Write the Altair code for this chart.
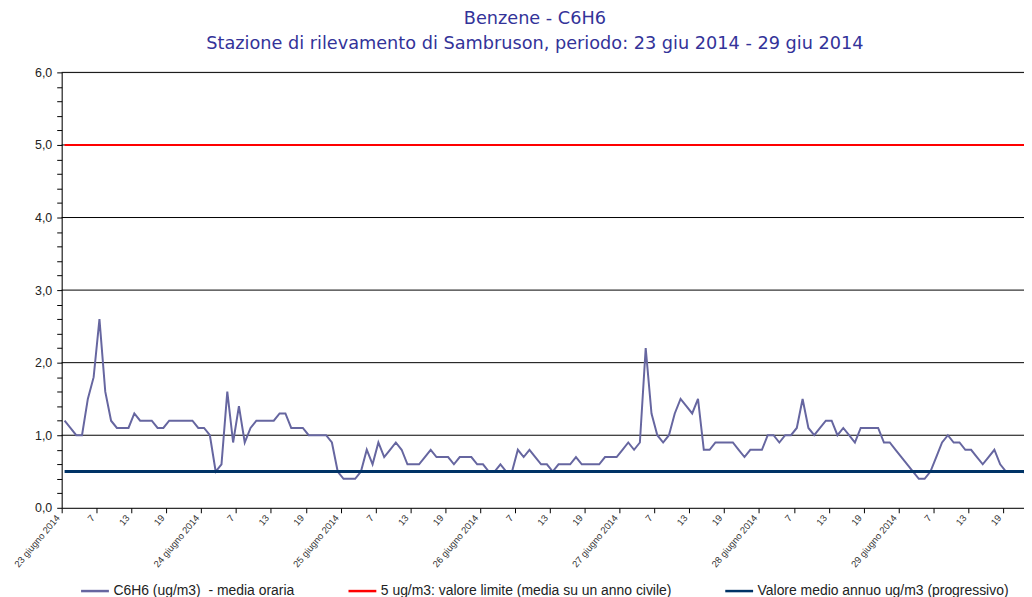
import json
import altair as alt
import pandas as pd

# ---------------- data ----------------
title_lines = [
    "Benzene - C6H6",
    "Stazione di rilevamento di Sambruson, periodo: 23 giu 2014 - 29 giu 2014",
]
series_names = [
    "C6H6 (ug/m3)\u00a0 - media oraria",
    "5 ug/m3: valore limite (media su un anno civile)",
    "Valore medio annuo ug/m3 (progressivo)",
]
series_colors = ["#6666A0", "#FF0000", "#003366"]

# hourly values, 23 -> 29 June 2014 (24 per day)
c6h6 = [
    # 23 giugno
    1.2, 1.1, 1.0, 1.0, 1.5, 1.8, 2.6, 1.6, 1.2, 1.1, 1.1, 1.1,
    1.3, 1.2, 1.2, 1.2, 1.1, 1.1, 1.2, 1.2, 1.2, 1.2, 1.2, 1.1,
    # 24 giugno
    1.1, 1.0, 0.5, 0.6, 1.6, 0.9, 1.4, 0.9, 1.1, 1.2, 1.2, 1.2,
    1.2, 1.3, 1.3, 1.1, 1.1, 1.1, 1.0, 1.0, 1.0, 1.0, 0.9, 0.5,
    # 25 giugno
    0.4, 0.4, 0.4, 0.5, 0.8, 0.6, 0.9, 0.7, 0.8, 0.9, 0.8, 0.6,
    0.6, 0.6, 0.7, 0.8, 0.7, 0.7, 0.7, 0.6, 0.7, 0.7, 0.7, 0.6,
    # 26 giugno
    0.6, 0.5, 0.5, 0.6, 0.5, 0.5, 0.8, 0.7, 0.8, 0.7, 0.6, 0.6,
    0.5, 0.6, 0.6, 0.6, 0.7, 0.6, 0.6, 0.6, 0.6, 0.7, 0.7, 0.7,
    # 27 giugno
    0.8, 0.9, 0.8, 0.9, 2.2, 1.3, 1.0, 0.9, 1.0, 1.3, 1.5, 1.4,
    1.3, 1.5, 0.8, 0.8, 0.9, 0.9, 0.9, 0.9, 0.8, 0.7, 0.8, 0.8,
    # 28 giugno
    0.8, 1.0, 1.0, 0.9, 1.0, 1.0, 1.1, 1.5, 1.1, 1.0, 1.1, 1.2,
    1.2, 1.0, 1.1, 1.0, 0.9, 1.1, 1.1, 1.1, 1.1, 0.9, 0.9, 0.8,
    # 29 giugno
    0.7, 0.6, 0.5, 0.4, 0.4, 0.5, 0.7, 0.9, 1.0, 0.9, 0.9, 0.8,
    0.8, 0.7, 0.6, 0.7, 0.8, 0.6, 0.5, 0.5, 0.5, 0.5, 0.4, 0.4,
]
valore_limite = 5.0
media_annua = 0.5

days = ["23 giugno 2014", "24 giugno 2014", "25 giugno 2014", "26 giugno 2014",
        "27 giugno 2014", "28 giugno 2014", "29 giugno 2014"]
hour_labels = ["7", "13", "19"]
x_tick_labels = []
for d in days:
    x_tick_labels += [d] + hour_labels
y_tick_labels = ["0,0", "1,0", "2,0", "3,0", "4,0", "5,0", "6,0"]
grid_values = [1, 2, 3, 4, 5, 6]

# ---------------- tables ----------------
n = len(c6h6)
ora = [i + 0.5 for i in range(n)]  # category centres
df_c6h6 = pd.DataFrame({"ora": ora, "valore": c6h6, "serie": series_names[0]})
df_lim = pd.DataFrame({"ora": ora, "valore": [valore_limite] * n, "serie": series_names[1]})
df_med = pd.DataFrame({"ora": ora, "valore": [media_annua] * n, "serie": series_names[2]})
df_grid = pd.DataFrame({"valore": grid_values})

x_ticks = [6 * k for k in range(len(x_tick_labels))]
y_ticks = [round(0.2 * k, 1) for k in range(31)]

x_label_expr = json.dumps(x_tick_labels) + "[round(datum.value / 6)]"
y_label_expr = ("abs(datum.value - round(datum.value)) < 0.01 ? "
                + json.dumps(y_tick_labels) + "[round(datum.value)] : ''")

PLOT_W, PLOT_H = 968, 438

x_enc = alt.X(
    "ora:Q",
    scale=alt.Scale(domain=[0, 165.6], nice=False, zero=False),
    axis=alt.Axis(
        values=x_ticks, labelExpr=x_label_expr, title=None, grid=False,
        domainColor="#000000", tickColor="#000000", tickSize=5,
        labelAngle=-50, labelAlign="right", labelBaseline="middle",
        labelFont="Liberation Sans", labelFontSize=9.5, labelColor="#333333",
        labelPadding=3, labelOffset=-4, labelOverlap=False, labelFlush=False,
    ),
)
y_enc = alt.Y(
    "valore:Q",
    scale=alt.Scale(domain=[0, 6], nice=False, zero=True),
    axis=alt.Axis(
        values=y_ticks, labelExpr=y_label_expr, title=None, grid=False,
        domainColor="#000000", tickColor="#000000", tickSize=5,
        labelFont="Liberation Sans", labelFontSize=12.5, labelColor="#222222",
        labelPadding=5, labelOverlap=False, labelFlush=False,
    ),
)
color_enc = alt.Color(
    "serie:N",
    scale=alt.Scale(domain=series_names, range=series_colors),
    legend=alt.Legend(
        orient="none", legendX=18, legendY=506, direction="horizontal",
        title=None, symbolType="stroke", symbolSize=784, symbolStrokeWidth=2.5,
        labelFont="Liberation Sans", labelFontSize=14, labelColor="#222222",
        columnPadding=48, labelOffset=3, labelLimit=0,
    ),
)

grid = alt.Chart(df_grid).mark_rule(color="#000000", strokeWidth=1).encode(y=y_enc)
line_c6h6 = alt.Chart(df_c6h6).mark_line(clip=True, strokeWidth=2).encode(
    x=x_enc, y=y_enc, color=color_enc)
line_lim = alt.Chart(df_lim).mark_line(clip=True, strokeWidth=2).encode(
    x=x_enc, y=y_enc, color=color_enc)
line_med = alt.Chart(df_med).mark_line(clip=True, strokeWidth=3).encode(
    x=x_enc, y=y_enc, color=color_enc)

chart = (
    alt.layer(grid, line_c6h6, line_lim, line_med)
    .properties(
        width=PLOT_W,
        height=PLOT_H,
        title=alt.TitleParams(
            text=title_lines, font="DejaVu Sans", fontSize=17.8, fontWeight="normal",
            color="#333399", lineHeight=25, offset=14, dx=-8, anchor="middle",
        ),
        autosize=alt.AutoSizeParams(type="none"),
        padding={"left": 54, "top": 63, "right": 0, "bottom": 96},
    )
    .configure_view(stroke=None)
    .configure(background="#ffffff")
)

chart.save("out.html", embed_options={"renderer": "svg", "actions": False})
